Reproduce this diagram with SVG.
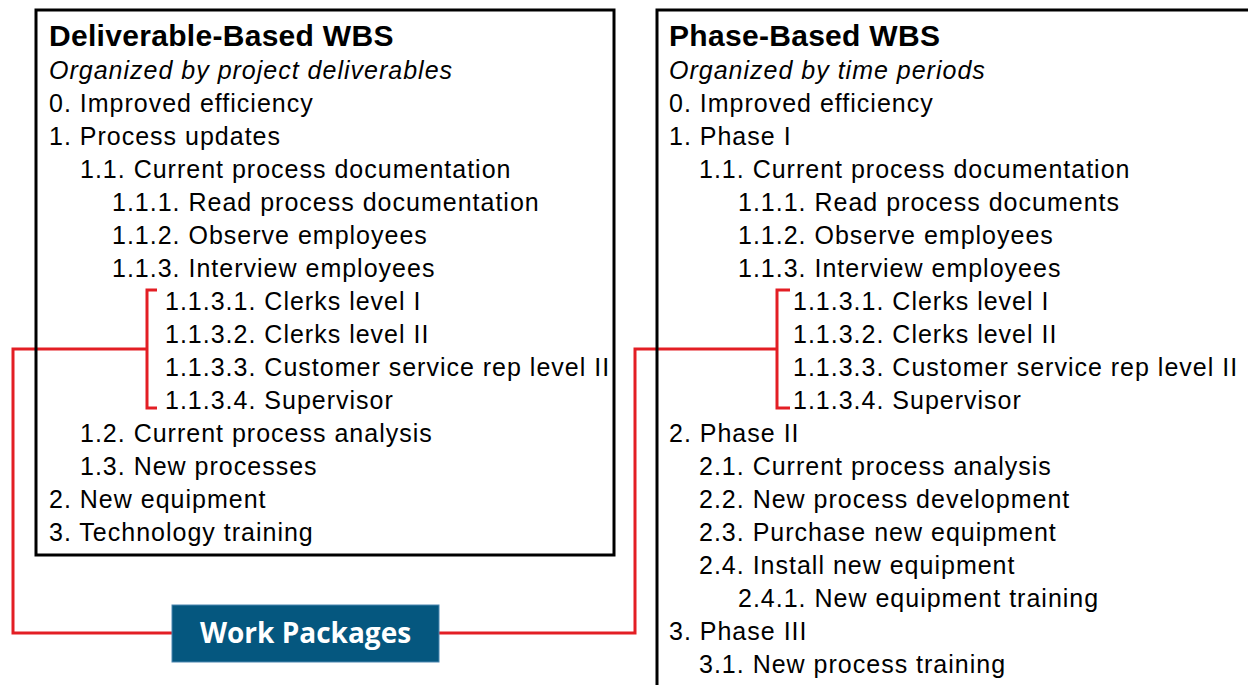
<svg xmlns="http://www.w3.org/2000/svg" width="1248" height="685" viewBox="0 0 1248 685">
<style>
.t{font-family:"Liberation Sans",Arial,sans-serif;font-size:25px;letter-spacing:1px;fill:#000}
.h{font-family:"Liberation Sans",Arial,sans-serif;font-size:30px;font-weight:bold;letter-spacing:0.3px;fill:#000}
.i{font-style:italic}
.box{fill:none;stroke:#000;stroke-width:3}
.red{fill:none;stroke:#e31e24;stroke-width:3;stroke-linejoin:miter}
.wp{fill:#05577f;stroke:#4a86b0;stroke-width:1}
.wpt{font-family:"Open Sans",Lato,sans-serif;font-size:28px;font-weight:bold;fill:#fff}
</style>
<rect width="1248" height="685" fill="#fff"/>
<g id="connectors">
<path class="red" d="M157,290 H147 V408 H157 M147,349 H13 V633 H172"/>
<path class="red" d="M790,290 H777 V408 H790 M777,349 H635 V633 H439"/>
</g>
<g id="deliverable-wbs" transform="translate(0,1)">
<rect class="box" x="36" y="9" width="578" height="545"/>
<text class="h" x="49" y="45">Deliverable-Based WBS</text>
<text class="t i" x="49" y="78">Organized by project deliverables</text>
<text class="t" x="49" y="111">0. Improved efficiency</text>
<text class="t" x="49" y="144">1. Process updates</text>
<text class="t" x="80" y="177">1.1. Current process documentation</text>
<text class="t" x="112" y="210">1.1.1. Read process documentation</text>
<text class="t" x="112" y="243">1.1.2. Observe employees</text>
<text class="t" x="112" y="276">1.1.3. Interview employees</text>
<text class="t" x="165" y="309">1.1.3.1. Clerks level I</text>
<text class="t" x="165" y="342">1.1.3.2. Clerks level II</text>
<text class="t" x="165" y="375">1.1.3.3. Customer service rep level II</text>
<text class="t" x="165" y="408">1.1.3.4. Supervisor</text>
<text class="t" x="80" y="441">1.2. Current process analysis</text>
<text class="t" x="80" y="474">1.3. New processes</text>
<text class="t" x="49" y="507">2. New equipment</text>
<text class="t" x="49" y="540">3. Technology training</text>
</g>
<g id="phase-wbs" transform="translate(0,1)">
<rect class="box" x="657" y="9" width="620" height="700"/>
<text class="h" x="669" y="45">Phase-Based WBS</text>
<text class="t i" x="669" y="78">Organized by time periods</text>
<text class="t" x="669" y="111">0. Improved efficiency</text>
<text class="t" x="669" y="144">1. Phase I</text>
<text class="t" x="699" y="177">1.1. Current process documentation</text>
<text class="t" x="738" y="210">1.1.1. Read process documents</text>
<text class="t" x="738" y="243">1.1.2. Observe employees</text>
<text class="t" x="738" y="276">1.1.3. Interview employees</text>
<text class="t" x="793" y="309">1.1.3.1. Clerks level I</text>
<text class="t" x="793" y="342">1.1.3.2. Clerks level II</text>
<text class="t" x="793" y="375">1.1.3.3. Customer service rep level II</text>
<text class="t" x="793" y="408">1.1.3.4. Supervisor</text>
<text class="t" x="669" y="441">2. Phase II</text>
<text class="t" x="699" y="474">2.1. Current process analysis</text>
<text class="t" x="699" y="507">2.2. New process development</text>
<text class="t" x="699" y="540">2.3. Purchase new equipment</text>
<text class="t" x="699" y="573">2.4. Install new equipment</text>
<text class="t" x="738" y="606">2.4.1. New equipment training</text>
<text class="t" x="669" y="639">3. Phase III</text>
<text class="t" x="699" y="672">3.1. New process training</text>
</g>
<g id="work-packages">
<rect class="wp" x="172" y="605" width="267" height="57"/>
<text class="wpt" x="305.5" y="643" text-anchor="middle">Work Packages</text>
</g>
</svg>
